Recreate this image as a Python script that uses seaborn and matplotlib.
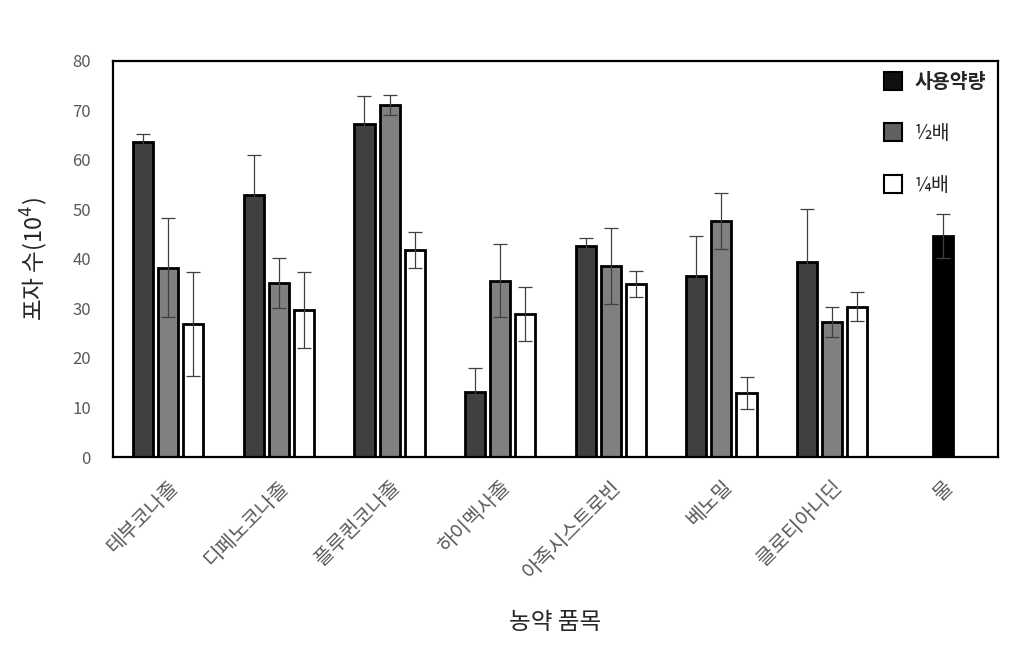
import numpy as np
import pandas as pd
import matplotlib
matplotlib.use("Agg")
import matplotlib.pyplot as plt
import seaborn as sns
from matplotlib.lines import Line2D

categories = ["테부코나졸", "디페노코나졸", "플루퀸코나졸", "하이멕사졸", "아족시스트로빈", "베노밀", "클로티아니딘", "물"]
doses = ["사용약량", "½배", "¼배"]
full_vals = [63.6, 52.9, 67.3, 13.2, 42.7, 36.6, 39.3]
full_err = [1.6, 8.1, 5.6, 4.7, 1.5, 8.0, 10.7]
half_vals = [38.2, 35.2, 71.1, 35.6, 38.6, 47.7, 27.3]
half_err = [10.0, 5.0, 2.0, 7.4, 7.6, 5.6, 3.1]
quarter_vals = [26.9, 29.7, 41.8, 28.9, 34.9, 12.9, 30.4]
quarter_err = [10.5, 7.7, 3.7, 5.4, 2.6, 3.2, 2.9]
water_val = [44.6]
water_err = [4.4]

sns.set_style("white")
plt.rcParams["font.family"] = ["Noto Sans CJK KR", "DejaVu Sans"]

rows = []
for i, c in enumerate(categories[:-1]):
    for d, vals, errs in zip(doses, [full_vals, half_vals, quarter_vals], [full_err, half_err, quarter_err]):
        rows.append({"cat": c, "dose": d, "val": vals[i], "err": errs[i]})
df = pd.DataFrame(rows)
df_w = pd.DataFrame({"cat": ["물"], "val": water_val, "err": water_err})

colors = {"사용약량": "#404040", "½배": "#808080", "¼배": "#ffffff"}

fig = plt.figure(figsize=(10.14, 6.52), dpi=100)
ax = fig.add_axes([113/1014, 1-457/652, (998-113)/1014, (457-61)/652])

sns.barplot(data=df, x="cat", y="val", hue="dose", order=categories, hue_order=doses,
            palette=colors, width=0.68, gap=0.2, errorbar=None, edgecolor="black",
            linewidth=2.0, legend=False, ax=ax)
for container, d in zip(ax.containers, doses):
    sub = df[df["dose"] == d].set_index("cat")
    xs, ys, es = [], [], []
    for patch, c in zip(container.patches, categories[:-1]):
        xs.append(patch.get_x() + patch.get_width() / 2)
        ys.append(sub.loc[c, "val"])
        es.append(sub.loc[c, "err"])
    ax.errorbar(xs, ys, yerr=es, fmt="none", ecolor="#404040", elinewidth=0.9, capsize=5, capthick=0.9)

n_before = len(ax.containers)
sns.barplot(data=df_w, x="cat", y="val", order=categories, color="black", width=0.68 / 3 * 0.8,
            errorbar=None, edgecolor="black", linewidth=2.0, ax=ax)
ax.errorbar([7], water_val, yerr=water_err, fmt="none", ecolor="#404040", elinewidth=0.9, capsize=5, capthick=0.9)

ax.set_xlim(-0.5, 7.5)
ax.set_ylim(0, 80)
ax.set_yticks(range(0, 81, 10))
ax.tick_params(axis="y", labelsize=12, labelcolor="#595959", length=0, pad=16)
ax.tick_params(axis="x", labelsize=14.5, labelcolor="#595959", length=0, pad=14)
for lab in ax.get_xticklabels():
    lab.set_rotation(45)
    lab.set_ha("right")
    lab.set_rotation_mode("anchor")
for s in ax.spines.values():
    s.set_color("black")
    s.set_linewidth(1.6)

ax.set_ylabel("포자 수(10$^4$)", fontsize=17, labelpad=16)
ax.set_xlabel("농약 품목", fontsize=17, labelpad=20)

handles = [Line2D([], [], marker="s", linestyle="none", markersize=13, markerfacecolor=fc,
                  markeredgecolor="black", markeredgewidth=1.5)
           for fc in ["#111111", "#606060", "#ffffff"]]
leg = ax.legend(handles, doses, loc="upper right", frameon=False, fontsize=14,
                handletextpad=0.1, labelspacing=1.6, borderaxespad=0.2)
leg.get_texts()[0].set_fontweight("bold")

fig.savefig("out.png", dpi=100)
